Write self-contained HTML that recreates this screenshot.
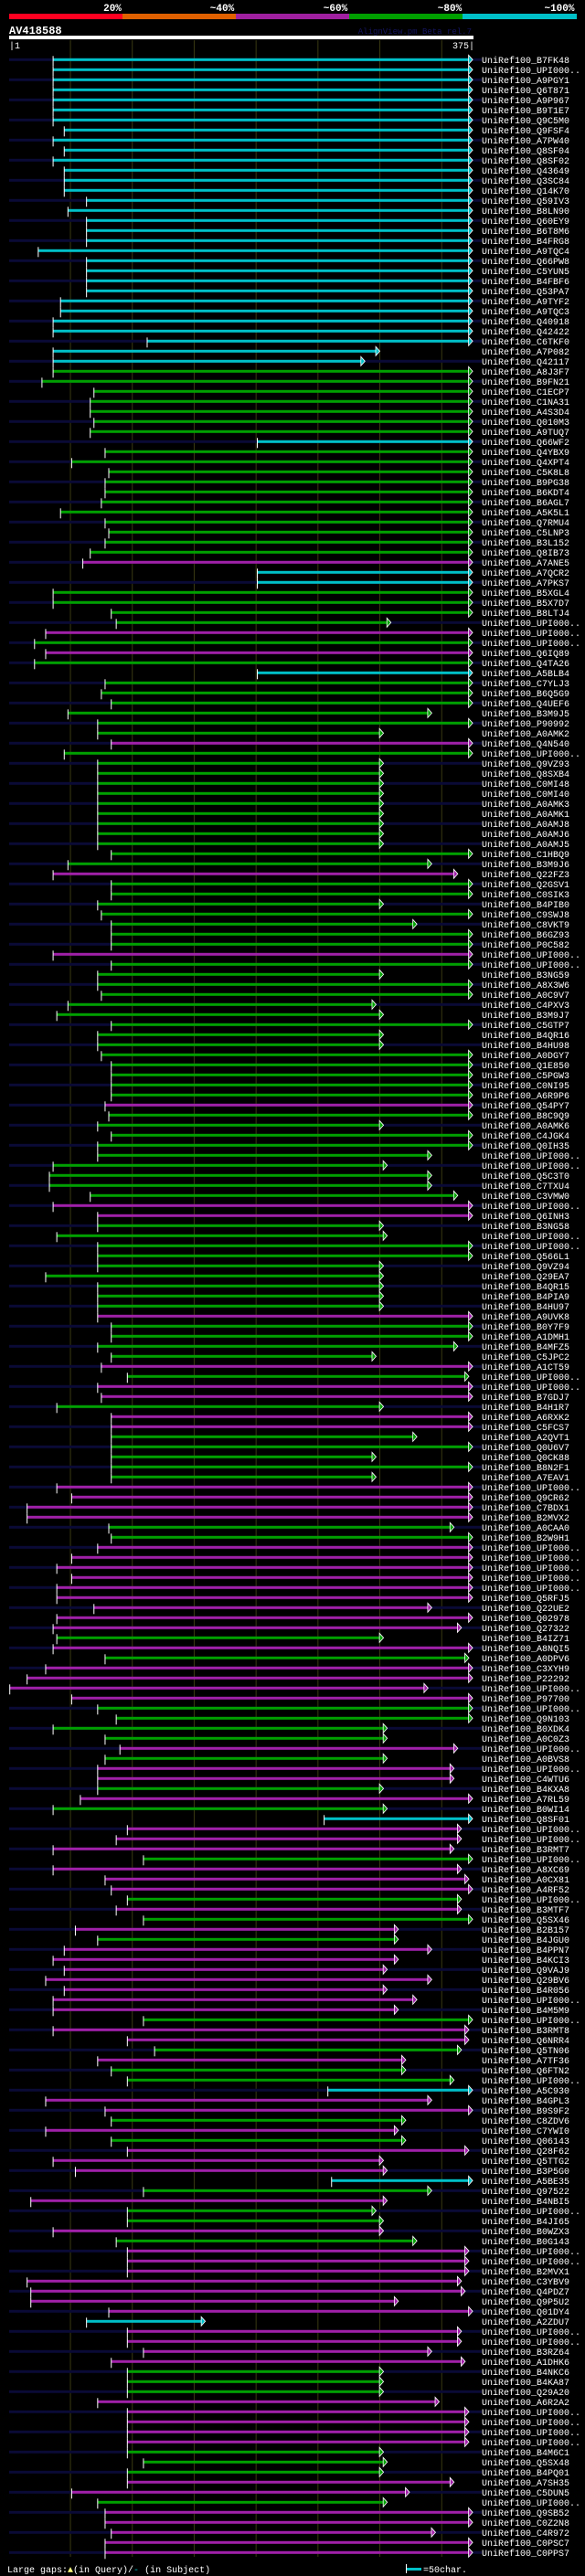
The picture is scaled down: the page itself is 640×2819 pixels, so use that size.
<!DOCTYPE html>
<html>
<head>
<meta charset="utf-8">
<style>
html,body{margin:0;padding:0;background:#000;}
body{width:640px;height:2819px;overflow:hidden;}
svg{display:block;}
text{font-family:"Liberation Mono",monospace;}
</style>
</head>
<body>
<svg id="chart" width="640" height="2819" viewBox="0 0 640 2819" xmlns="http://www.w3.org/2000/svg">
  <g>
    <rect x="10" y="15" width="124" height="6" fill="#ff0020"/>
    <rect x="134" y="15" width="124" height="6" fill="#e06000"/>
    <rect x="258" y="15" width="124" height="6" fill="#a020a0"/>
    <rect x="382" y="15" width="124" height="6" fill="#00a000"/>
    <rect x="506" y="15" width="125" height="6" fill="#00c0c8"/>
    <text x="123" y="12" fill="#fff" font-size="11" font-weight="bold" text-anchor="middle">20%</text>
    <text x="243" y="12" fill="#fff" font-size="11" font-weight="bold" text-anchor="middle">~40%</text>
    <text x="367" y="12" fill="#fff" font-size="11" font-weight="bold" text-anchor="middle">~60%</text>
    <text x="492" y="12" fill="#fff" font-size="11" font-weight="bold" text-anchor="middle">~80%</text>
    <text x="612" y="12" fill="#fff" font-size="11" font-weight="bold" text-anchor="middle">~100%</text>
  </g>
  <text x="10" y="37" fill="#fff" font-size="12" font-weight="bold">AV418588</text>
  <text x="516" y="37" fill="#141460" font-size="9" text-anchor="end">AlignView.pm Beta rel.7</text>
  <rect x="10" y="39" width="508" height="4" fill="#fff"/>
  <text x="10" y="53" fill="#fff" font-size="10">|1</text>
  <text x="519" y="53" fill="#fff" font-size="10" text-anchor="end">375|</text>
  <g id="grid"></g>
  <g id="rows"></g>
  <g>
    <text x="8" y="2815" fill="#fff" font-size="10">Large gaps:<tspan fill="#ffff80">▲</tspan>(in Query)/<tspan fill="#00c0c8">-</tspan> (in Subject)</text>
    <rect x="445" y="2810" width="16" height="3" fill="#00c0c8"/>
    <rect x="444" y="2806" width="1" height="10" fill="#fff"/>
    <text x="463" y="2815" fill="#fff" font-size="10">=50char.</text>
  </g>
</svg>
<script>
const names = ["B7FK48","UPI000..","A9PGY1","Q6T871","A9P967","B9T1E7","Q9C5M0","Q9FSF4","A7PW40","Q8SF04","Q8SF02","Q43649","Q3SC84","Q14K70","Q59IV3","B8LN90","Q60EY9","B6T8M6","B4FRG8","A9TQC4","Q66PW8","C5YUN5","B4FBF6","Q53PA7","A9TYF2","A9TQC3","Q40918","Q42422","C6TKF0","A7P082",
"Q42117","A8J3F7","B9FN21","C1ECP7","C1NA31","A4S3D4","Q010M3","A9TUQ7","Q66WF2","Q4YBX9","Q4XPT4","C5K8L8","B9PG38","B6KDT4","B6AGL7","A5K5L1","Q7RMU4","C5LNP3","B3L152","Q8IB73","A7ANE5","A7QCR2","A7PKS7","B5XGL4","B5X7D7","B8LTJ4",
"UPI000..","UPI000..","UPI000..","Q6IQ89","Q4TA26","A5BLB4","C7YLJ3","B6Q5G9","Q4UEF6","B3M9J5","P90992","A0AMK2","Q4N540","UPI000..","Q9VZ93","Q8SXB4","C0MI48","C0MI40","A0AMK3","A0AMK1","A0AMJ8","A0AMJ6","A0AMJ5","C1HBQ9","B3M9J6","Q22FZ3","Q2GSV1",
"C0SIK3","B4PIB0","C9SWJ8","C8VKT9","B6GZ93","P0C582","UPI000..","UPI000..","B3NG59","A8X3W6","A0C9V7","C4PXV3","B3M9J7","C5GTP7","B4QR16","B4HU98","A0DGY7","Q1E850","C5PGW3","C0NI95","A6R9P6","Q54PY7","B8C9Q9","A0AMK6","C4JGK4","Q0IH35",
"UPI000..","UPI000..","Q5C3T0","C7TXU4","C3VMW0","UPI000..","Q6INH3","B3NG58","UPI000..","UPI000..","Q566L1","Q9VZ94","Q29EA7","B4QR15","B4PIA9","B4HU97","A9UVK8","B0Y7F9","A1DMH1","B4MFZ5","C5JPC2","A1CT59","UPI000..","UPI000..","B7GDJ7","B4H1R7",
"A6RXK2","C5FCS7","A2QVT1","Q0U6V7","Q0CK88","B8N2F1","A7EAV1","UPI000..","Q9CR62","C7BDX1","B2MVX2","A0CAA0","B2W9H1","UPI000..","UPI000..","UPI000..","UPI000..","UPI000..","Q5RFJ5","Q22UE2","Q02978","Q27322","B4IZ71","A8NQI5","A0DPV6","C3XYH9","P22292",
"UPI000..","P97700","UPI000..","Q9N103","B0XDK4","A0C0Z3","UPI000..","A0BVS8","UPI000..","C4WTU6","B4KXA8","A7RL59","B0WI14","Q8SF01","UPI000..","UPI000..","B3RMT7","UPI000..","A8XC69","A0CX81","A4RF52","UPI000..","B3MTF7","Q5SX46","B2B157","B4JGU0",
"B4PPN7","B4KCI3","Q9VAJ9","Q29BV6","B4R056","UPI000..","B4M5M9","UPI000..","B3RMT8","Q6NRR4","Q5TN06","A7TF36","Q6FTN2","UPI000..","A5C930","B4GPL3","B9S9F2","C8ZDV6","C7YWI0","Q06143","Q28F62","Q5TTG2","B3P5G0","A5BE35","Q97522","B4NBI5","UPI000..",
"B4JI65","B0WZX3","B0G143","UPI000..","UPI000..","B2MVX1","C3YBV9","Q4PDZ7","Q9P5U2","Q01DY4","A2ZDU7","UPI000..","UPI000..","B3RZ64","A1DHK6","B4NKC6","B4KA87","Q29A20","A6R2A2","UPI000..","UPI000..","UPI000..","UPI000..","B4M6C1","Q5SX48","B4PQ01",
"A7SH35","C5DUN5","UPI000..","Q9SB52","C0Z2N8","C4R972","C0PSC7","C0PPS7"];

const starts = [36,36,36,36,36,36,36,45,36,45,36,45,45,45,63,48,63,63,63,24,63,63,63,63,42,42,36,36,112,36,
36,36,27,69,66,66,69,66,201,78,51,81,78,78,75,42,78,81,78,66,60,201,201,36,36,83,
87,30,21,30,21,201,78,75,83,48,72,72,83,45,72,72,72,72,72,72,72,72,72,83,48,36,83,
83,72,75,83,83,83,36,83,72,72,75,48,39,83,72,72,75,83,83,83,83,78,81,72,83,72,
72,36,33,33,66,36,72,72,39,72,72,72,30,72,72,72,72,83,83,72,83,75,96,72,75,39,
83,83,83,83,83,83,83,39,51,15,15,81,83,72,51,39,51,39,39,69,39,36,39,36,78,30,15,
1,51,72,87,36,78,90,78,72,72,72,58,36,255,96,87,36,109,36,78,83,96,87,109,54,72,
45,36,45,30,45,36,36,109,36,96,118,72,83,96,258,30,78,83,30,83,96,36,54,261,109,18,96,
96,36,87,96,96,96,15,18,18,81,63,96,96,109,83,96,96,96,72,96,96,96,96,96,109,96,
96,51,72,78,78,83,78,78];

const ends = [375,375,375,375,375,375,375,375,375,375,375,375,375,375,375,375,375,375,375,375,375,375,375,375,375,375,375,375,375,300,
288,375,375,375,375,375,375,375,375,375,375,375,375,375,375,375,375,375,375,375,375,375,375,375,375,375,
309,375,375,375,375,375,375,375,375,342,375,303,375,375,303,303,303,303,303,303,303,303,303,375,342,363,375,
375,303,375,330,375,375,375,375,303,375,375,297,303,375,303,303,375,375,375,375,375,375,375,303,375,375,
342,306,342,342,363,375,375,303,306,375,375,303,303,303,303,303,375,375,375,363,297,375,372,375,375,303,
375,375,330,375,297,375,297,375,375,375,375,360,375,375,375,375,375,375,375,342,375,366,303,375,372,375,375,
339,375,375,375,306,306,363,306,360,360,303,375,306,375,366,366,360,375,366,372,375,366,366,375,315,315,
342,315,306,342,306,330,315,375,372,372,366,321,321,360,375,342,375,321,315,321,372,303,306,375,342,306,297,
303,303,330,372,372,372,366,369,315,375,159,366,366,342,369,303,303,303,348,372,372,372,372,303,306,303,
360,324,306,375,375,345,375,375];

const colors =
  "ccccccccccccccccccccccccccccccc" + "ggggggg" + "c" + "ggggggggggg" + "p" + "cc" + "ggg" +
  "gpgpgc" + "gggggg" + "p" + "g" + "ggggggggg" + "gg" + "p" + "g" +
  "gggggg" + "p" + "g" + "ggggggggggggg" + "p" + "gggg" +
  "ggggg" + "pp" + "ggggggggg" + "p" + "gggg" + "p" + "g" + "pp" + "g" +
  "pp" + "ggggg" + "pppp" + "gg" + "ppppppppp" + "g" + "p" + "g" + "pp" +
  "ppgggg" + "p" + "g" + "pp" + "g" + "p" + "g" + "c" + "ppp" + "g" + "ppp" + "g" + "p" + "g" + "p" + "g" +
  "ppppppp" + "g" + "pp" + "g" + "p" + "gg" + "c" + "pp" + "g" + "p" + "g" + "ppp" + "c" + "g" + "p" + "g" +
  "gpg" + "ppppppp" + "c" + "pppp" + "ggg" + "p" + "pppp" + "ggg" +
  "ppgppppp";

const palette = {c:"#00c0c8", g:"#00a000", p:"#a020a8"};
const gridTicks = [50,100,150,200,250,300,350];

const X0 = 10.7, PX = 1.354, ROW0 = 65.3, ROWH = 11;
function xScale(r){ return X0 + (r - 1) * PX; }
function yScale(i){ return ROW0 + i * ROWH; }

const NS = "http://www.w3.org/2000/svg";
function mk(tag, attrs){ const e = document.createElementNS(NS, tag); for (const k in attrs) e.setAttribute(k, attrs[k]); return e; }

const grid = document.getElementById("grid");
gridTicks.forEach(t => {
  const l = mk("line", {x1: xScale(t), x2: xScale(t), y1: 44, y2: 2798, stroke: "#3a3a12", "stroke-width": 1});
  
  
  grid.appendChild(l);
});

const rows = document.getElementById("rows");
for (let i = 0; i < names.length; i++) {
  const y = yScale(i);
  const g = mk("g", {});
  
  
  if (i % 2 === 0) {
    const s = mk("rect", {x: 10, y: y - 1.5, width: 517, height: 3, fill: "#0a0a36"});
    
    
    g.appendChild(s);
  }
  const col = palette[colors[i] || "p"];
  const x1 = xScale(starts[i]);
  const xt = xScale(ends[i]);
  const xb = xt - 4.5;
  const bar = mk("rect", {x: x1, y: y - 1.5, width: Math.max(1, xb - x1), height: 3, fill: col});
  
  
  g.appendChild(bar);
  const tick = mk("rect", {x: x1 - 0.5, y: y - 4, width: 1, height: 11, fill: "#fff"});
  
  
  g.appendChild(tick);
  const arr = mk("path", {d: `M${xb},${y-5} L${xt},${y} L${xb},${y+5} Z`, fill: col, stroke: "#fff", "stroke-width": 0.8});
  
  
  g.appendChild(arr);
  const t = mk("text", {x: 527, y: y + 3.5, fill: "#fff", "font-size": 10});
  t.textContent = "UniRef100_" + names[i];
  
  
  g.appendChild(t);
  rows.appendChild(g);
}
</script>
</body>
</html>
